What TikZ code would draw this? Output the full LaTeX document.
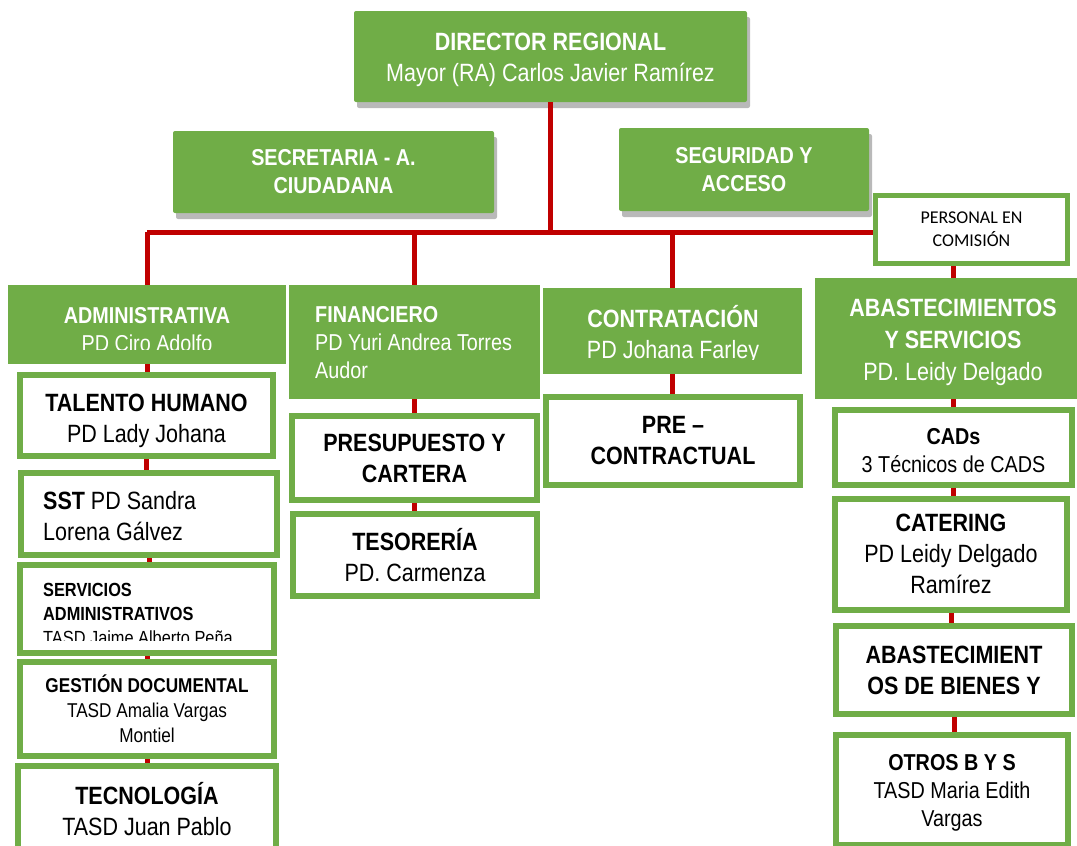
\documentclass[tikz,border=0pt]{standalone}
\usepackage{fontspec}
\setmainfont[FakeStretch=0.86]{Liberation Sans}
\newfontfamily\calfont{Carlito}
\usetikzlibrary{shadows,backgrounds}
\definecolor{grn}{RGB}{112,173,71}
\definecolor{lred}{RGB}{192,0,0}

\begin{document}
\begin{tikzpicture}[x=1pt,y=-1pt,
  hdr/.style={fill=grn,text=white,inner sep=0pt,align=center},
  top/.style={hdr,rounded corners=2pt,drop shadow={shadow xshift=3pt,shadow yshift=-6pt,fill=black!50,opacity=0.55}},
  wbox/.style={draw=grn,line width=6pt,fill=white,inner sep=0pt,align=center},
  sz/.style 2 args={minimum width=#1,minimum height=#2},
  wsz/.style 2 args={minimum width=#1-6,minimum height=#2-6},
  txt/.style={inner sep=0pt,align=left,anchor=west},
  ctxt/.style={inner sep=0pt,align=center},
  link/.style={draw=lred,line width=5pt},
  fbig/.style={font=\fontsize{25}{31}\selectfont},
  fmid/.style={font=\fontsize{23}{28}\selectfont},
  fsml/.style={font=\fontsize{20}{25}\selectfont}]
\useasboundingbox (0,0) rectangle (1077,846);

\node[top,sz={393}{91}] (dir) at (550.5,56.5) {};
\node[ctxt,text=white,fbig] (dir-t) at (550.5,59.5) {\textbf{DIRECTOR REGIONAL}\\Mayor (RA) Carlos Javier Ramírez};
\node[top,sz={321}{82},fmid] (sec) at (333.5,172) {\textbf{SECRETARIA - A.}\\\textbf{CIUDADANA}};
\node[top,sz={250}{83},fmid] (seg) at (744,169.5) {\textbf{SEGURIDAD Y}\\\textbf{ACCESO}};
\node[wbox,line width=5pt,minimum width=192,minimum height=68,font=\calfont\fontsize{18}{23}\selectfont] (pec) at (971.5,229.5) {PERSONAL EN\\COMISIÓN};

\node[hdr,sz={278}{79}] (adm) at (147,324.5) {};
\begin{scope}
\clip (8,285) rectangle (286,349);
\node[ctxt,text=white,fmid] (adm-t) at (147,330) {\textbf{ADMINISTRATIVA}\\PD Ciro Adolfo};
\end{scope}
\node[hdr,sz={251}{114}] (fin) at (414.5,342) {};
\node[txt,text=white,fmid] (fin-t) at (315,343) {\textbf{FINANCIERO}\\PD Yuri Andrea Torres\\Audor};
\node[hdr,sz={259}{86}] (con) at (672.5,331) {};
\begin{scope}
\clip (543,288) rectangle (802,359);
\node[ctxt,text=white,fbig] (con-t) at (673,334.5) {\textbf{CONTRATACIÓN}\\PD Johana Farley};
\end{scope}
\node[hdr,sz={276}{121}] (abs) at (953,338.5) {};
\node[ctxt,text=white,font=\fontsize{25}{32}\selectfont] (abs-t) at (953,342.5) {\textbf{ABASTECIMIENTOS}\\\textbf{Y SERVICIOS}\\PD. Leidy Delgado};

\node[wbox,wsz={259}{87}] (th) at (146.5,415.5) {};
\node[ctxt,fbig] (th-t) at (146.5,421) {\textbf{TALENTO HUMANO}\\PD Lady Johana};
\node[wbox,wsz={262}{88}] (sst) at (149,514) {};
\node[txt,fbig] (sst-t) at (43,516) {\textbf{SST} PD Sandra\\Lorena Gálvez};
\node[wbox,wsz={260}{94}] (sa) at (147,609) {};
\begin{scope}
\clip (20,565) rectangle (274,640);
\node[txt,font=\fontsize{19}{24}\selectfont] (sa-t) at (43,614) {\textbf{SERVICIOS}\\\textbf{ADMINISTRATIVOS}\\TASD Jaime Alberto Peña};
\end{scope}
\node[wbox,wsz={260}{100},fsml] (gd) at (147,709) {\textbf{GESTIÓN DOCUMENTAL}\\TASD Amalia Vargas\\Montiel};
\node[wbox,wsz={264}{92},fbig] (tec) at (147,809) {\textbf{TECNOLOGÍA}\\TASD Juan Pablo};

\node[wbox,wsz={251}{90},fbig] (pc) at (414.5,458) {\textbf{PRESUPUESTO Y}\\\textbf{CARTERA}};
\node[wbox,wsz={250}{88},fbig] (tes) at (415,555) {\textbf{TESORERÍA}\\PD. Carmenza};

\node[wbox,wsz={260}{94},fbig] (pre) at (673,441) {\textbf{PRE –}\\\textbf{CONTRACTUAL}};

\node[wbox,wsz={243}{81}] (cad) at (953.5,447.5) {};
\node[ctxt,fmid] (cad-t) at (953.5,451) {\textbf{CADs}\\3 Técnicos de CADS};
\node[wbox,wsz={238}{117},fbig] (cat) at (951,554) {\textbf{CATERING}\\PD Leidy Delgado\\Ramírez};
\node[wbox,wsz={242}{94},fbig] (abb) at (954,670) {\textbf{ABASTECIMIENT}\\\textbf{OS DE BIENES Y}};
\node[wbox,wsz={238}{116}] (otr) at (952,790) {};
\node[ctxt,fmid] (otr-t) at (952,793) {\textbf{OTROS B Y S}\\TASD Maria Edith\\Vargas};

\coordinate (bus) at (147,232);
\draw[link] (dir.south) -- (dir.south |- bus);
\begin{scope}[on background layer]
\draw[link] (bus) -- (bus -| pec.west);
\draw[link] (bus) -- (adm.north);
\draw[link] (fin.north |- bus) -- (fin.north);
\draw[link] (con.north |- bus) -- (con.north);
\draw[link] (abs.north |- pec.south) -- (abs.north);
\foreach \a/\b in {adm/th,th/sst,sst/sa,sa/gd,gd/tec,fin/pc,pc/tes,con/pre,abs/cad,cad/cat,cat/abb,abb/otr}
  \draw[link] (\a.south) -- (\a.south |- \b.north);
\end{scope}
\end{tikzpicture}
\end{document}
